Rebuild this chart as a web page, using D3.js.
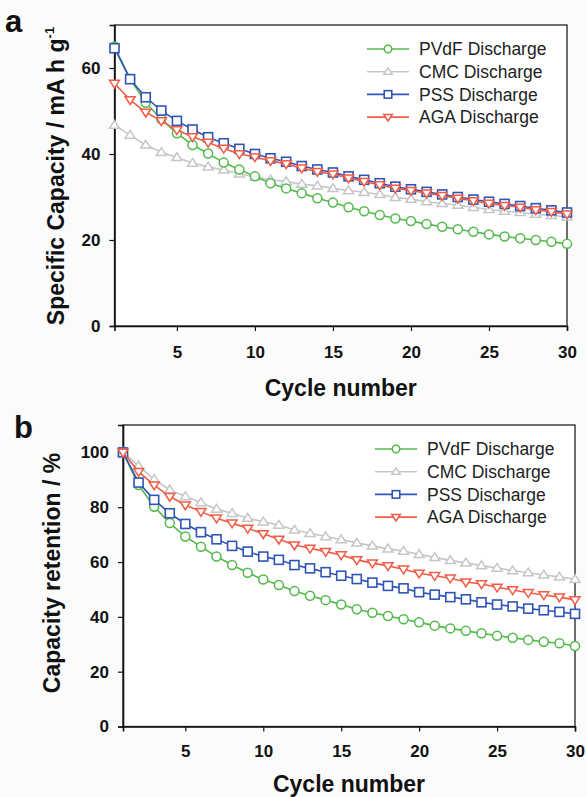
<!doctype html>
<html lang="en">
<head>
    <meta charset="UTF-8">
    <title>Capacity chart</title>
    <script src="https://cdnjs.cloudflare.com/ajax/libs/d3/7.8.5/d3.min.js"></script>
    <style>
        html, body {
            margin: 0;
            padding: 0;
            background: #fbfbfc;
            overflow: hidden;
        }
        text {
            font-family: "Liberation Sans", Arial, sans-serif;
        }
    </style>
</head>
<body>
<svg id="chart" width="587" height="797"></svg>
<script>
    // cycle numbers 1..30
    const cycles = [1,2,3,4,5,6,7,8,9,10,11,12,13,14,15,16,17,18,19,20,21,22,23,24,25,26,27,28,29,30];
    const xTicks = [5, 10, 15, 20, 25, 30];

    const seriesNames = ["PVdF Discharge", "CMC Discharge", "PSS Discharge", "AGA Discharge"];

    // panel a - specific capacity (mA h g-1)
    const capPVdF = [65.0, 57.5, 51.9, 48.1, 44.8, 42.1, 40.1, 38.0, 36.4, 34.8, 33.2, 32.0, 30.9, 29.7, 28.7,
                     27.6, 26.7, 25.8, 25.0, 24.4, 23.7, 23.1, 22.5, 21.9, 21.3, 20.8, 20.4, 20.0, 19.6, 19.1];
    const capCMC  = [46.7, 44.4, 42.1, 40.4, 39.2, 37.9, 37.0, 36.3, 35.4, 34.7, 34.0, 33.6, 33.0, 32.6, 32.0,
                     31.5, 31.1, 30.6, 29.9, 29.5, 28.9, 28.5, 28.1, 27.6, 27.1, 26.7, 26.4, 26.0, 25.7, 25.4];
    const capPSS  = [64.6, 57.4, 53.2, 50.1, 47.7, 45.7, 43.9, 42.5, 41.2, 40.0, 39.0, 38.2, 37.2, 36.4, 35.7,
                     34.8, 34.0, 33.2, 32.4, 31.8, 31.2, 30.6, 30.0, 29.4, 28.9, 28.4, 27.9, 27.4, 26.9, 26.4];
    const capAGA  = [56.4, 52.6, 49.7, 47.7, 45.6, 44.0, 42.7, 41.3, 40.0, 39.3, 38.4, 37.7, 36.7, 35.9, 35.3,
                     34.4, 33.6, 32.8, 32.0, 31.5, 30.9, 30.3, 29.7, 29.1, 28.5, 28.0, 27.6, 27.0, 26.6, 26.0];
    const capTicks = [0, 20, 40, 60];

    // panel b - capacity retention (%)
    const retPVdF = [100, 88.1, 80.2, 74.2, 69.3, 65.6, 62.0, 58.9, 56.1, 53.6, 51.6, 49.4, 47.7, 46.1, 44.5,
                     42.8, 41.5, 40.3, 39.1, 38.0, 36.8, 35.8, 34.9, 34.0, 33.1, 32.4, 31.6, 30.9, 30.4, 29.4];
    const retCMC  = [100, 95.1, 90.2, 86.3, 83.9, 81.7, 79.3, 77.8, 76.0, 74.7, 73.5, 71.7, 70.5, 69.3, 68.2,
                     67.0, 65.9, 64.8, 64.0, 62.8, 61.7, 60.6, 59.7, 58.7, 57.8, 56.9, 56.1, 55.3, 54.6, 53.7];
    const retPSS  = [100, 89.0, 82.7, 77.8, 73.9, 70.9, 68.3, 65.9, 63.8, 62.0, 60.8, 58.9, 57.7, 56.3, 55.0,
                     53.8, 52.5, 51.3, 50.4, 49.0, 48.1, 47.2, 46.4, 45.3, 44.5, 43.8, 43.0, 42.4, 41.8, 41.1];
    const retAGA  = [100, 93.0, 88.1, 83.9, 80.8, 78.4, 76.0, 74.2, 72.3, 70.3, 68.3, 66.2, 65.0, 63.8, 62.6,
                     60.8, 59.6, 58.6, 57.4, 55.9, 55.0, 54.1, 52.7, 52.0, 50.8, 49.8, 48.8, 48.0, 47.2, 46.2];
    const retTicks = [0, 20, 40, 60, 80, 100];

    const colors = ["#52b94a", "#c3c7ca", "#2f55b6", "#f25c46"];
    const shapes = ["circle", "triangleUp", "square", "triangleDown"];
    const drawOrder = [1, 0, 2, 3];

    const svg = d3.select("#chart");

    function marker(g, shape, x, y, s, color) {
        if (shape === "circle") {
            g.append("circle").attr("cx", x).attr("cy", y).attr("r", s * 0.5)
                .attr("fill", "#fff").attr("stroke", color).attr("stroke-width", 1.5);
        } else if (shape === "square") {
            g.append("rect").attr("x", x - s / 2).attr("y", y - s / 2).attr("width", s).attr("height", s)
                .attr("fill", "#fff").attr("stroke", color).attr("stroke-width", 1.6);
        } else {
            const h = s * 0.87;
            const dir = shape === "triangleUp" ? 1 : -1;
            const pts = [[x, y - dir * h * 0.6], [x - s / 2 - 0.5, y + dir * h * 0.4], [x + s / 2 + 0.5, y + dir * h * 0.4]];
            g.append("path").attr("d", "M" + pts.join("L") + "Z")
                .attr("fill", "#fff").attr("stroke", color).attr("stroke-width", 1.5);
        }
    }

    function drawPanel(p) {
        const x = d3.scaleLinear().domain([1, 30]).range([p.left, p.right]);
        const y = d3.scaleLinear().domain([0, p.yMax]).range([p.bottom, p.top]);
        const g = svg.append("g");

        // frame
        g.append("rect").attr("x", p.left).attr("y", p.top)
            .attr("width", p.right - p.left).attr("height", p.bottom - p.top)
            .attr("fill", "#fff").attr("stroke", "#222").attr("stroke-width", 1.3);

        const xAxis = g.append("g").attr("transform", "translate(0," + p.bottom + ")")
            .call(d3.axisBottom(x).tickValues(xTicks).tickSize(5).tickPadding(p.xPad));
        const yAxis = g.append("g").attr("transform", "translate(" + p.left + ",0)")
            .call(d3.axisLeft(y).tickValues(p.yTicks).tickSize(5).tickPadding(9));
        [xAxis, yAxis].forEach(a => {
            a.select(".domain").attr("stroke", "#111").attr("stroke-width", 1.6);
            a.selectAll(".tick line").attr("stroke", "#111").attr("stroke-width", 1.2);
            a.selectAll(".tick text").attr("fill", "#111").attr("font-size", 17)
                .attr("font-weight", "bold");
        });

        // series
        const line = d3.line().x((d, i) => x(cycles[i])).y(d => y(d));
        drawOrder.forEach(k => {
            const s = g.append("g");
            s.append("path").datum(p.series[k]).attr("d", line)
                .attr("fill", "none").attr("stroke", colors[k]).attr("stroke-width", 1.6);
            p.series[k].forEach((v, i) => marker(s, shapes[k], x(cycles[i]), y(v), 9, colors[k]));
        });

        // legend
        seriesNames.forEach((name, k) => {
            const ly = p.legY + k * 22.7;
            g.append("line").attr("x1", p.legX).attr("x2", p.legX + 42)
                .attr("y1", ly).attr("y2", ly).attr("stroke", colors[k]).attr("stroke-width", 1.6);
            marker(g, shapes[k], p.legX + 21, ly, 7.5, colors[k]);
            g.append("text").attr("x", p.legX + 52).attr("y", ly).attr("dy", "0.35em")
                .attr("font-size", 17.5).attr("fill", "#222").text(name);
        });

        // axis titles
        g.append("text").attr("x", (p.left + p.right) / 2).attr("y", p.xTitleY)
            .attr("text-anchor", "middle").attr("font-size", 23).attr("font-weight", "bold")
            .attr("fill", "#111").text("Cycle number");
        const yt = g.append("text")
            .attr("transform", "translate(" + p.yTitleX + "," + p.yTitleY + ") rotate(-90)")
            .attr("text-anchor", "middle").attr("font-size", 23).attr("font-weight", "bold").attr("fill", "#111");
        yt.append("tspan").text(p.yTitle);
        if (p.sup) {
            yt.append("tspan").attr("font-size", 13).attr("dy", -10).text(p.sup);
        }

        g.append("text").attr("x", p.letterX).attr("y", p.letterY)
            .attr("font-size", 31).attr("font-weight", "bold").attr("fill", "#111").text(p.letter);
    }

    drawPanel({
        left: 114.5, right: 567, top: 25, bottom: 326, yMax: 70, yTicks: capTicks, xPad: 15,
        series: [capPVdF, capCMC, capPSS, capAGA],
        legX: 367, legY: 49,
        xTitleY: 396, yTitleX: 64, yTitleY: 176,
        yTitle: "Specific Capacity / mA h g", sup: "-1",
        letter: "a", letterX: 5, letterY: 32
    });

    drawPanel({
        left: 123, right: 575, top: 425, bottom: 726.5, yMax: 110, yTicks: retTicks, xPad: 13,
        series: [retPVdF, retCMC, retPSS, retAGA],
        legX: 375, legY: 449,
        xTitleY: 792, yTitleX: 60, yTitleY: 573,
        yTitle: "Capacity retention / %", sup: null,
        letter: "b", letterX: 14, letterY: 438
    });
</script>
</body>
</html>
